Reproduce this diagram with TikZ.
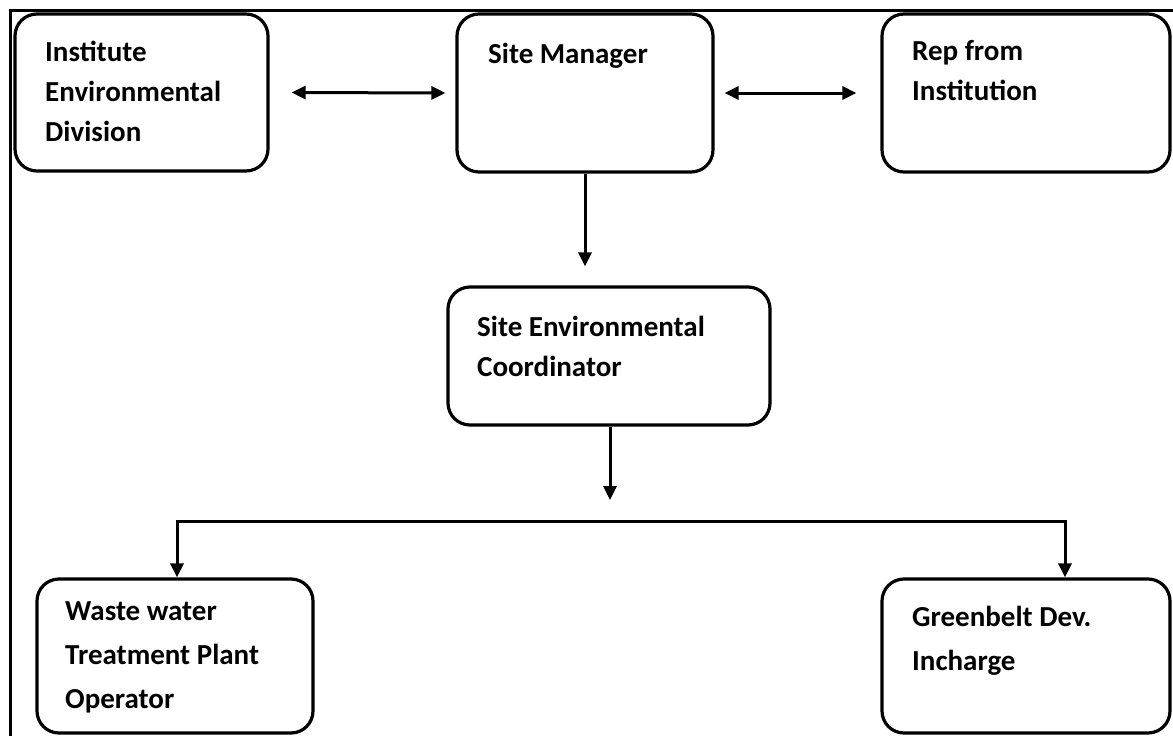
\documentclass[tikz,border=0pt]{standalone}
\usepackage{fontspec}
\setmainfont{Carlito}
\usetikzlibrary{arrows.meta}

\begin{document}
\begin{tikzpicture}[x=1pt, y=-1pt,
                    >={Triangle[length=14pt, width=13pt]},
                    box/.style = {draw=black, line width=3.2pt, rounded corners=22pt, inner sep=0pt},
                    txt/.style = {anchor=north west, align=left, inner sep=0pt, font=\fontsize{29}{40}\selectfont\bfseries},
                    arr/.style = {line width=3pt, ->},
                    frame/.style = {line width=3pt}
                ]
                    \useasboundingbox (0,0) rectangle (1173,736);
                    \draw[frame] (1180,10) -- (10,10) -- (10,745);

                    \node[box, minimum width=253pt, minimum height=157pt] (ied) at (141.5,92.5) {};
                    \node[box, minimum width=256pt, minimum height=158pt] (sm) at (585,93) {};
                    \node[box, minimum width=288pt, minimum height=158pt] (rep) at (1026,93) {};
                    \node[box, minimum width=322pt, minimum height=138pt] (sec) at (609,356) {};
                    \node[box, minimum width=276pt, minimum height=154pt] (ww) at (175,656) {};
                    \node[box, minimum width=288pt, minimum height=154pt] (gb) at (1026,656) {};

                    \node[txt] (iedtxt) at (45,41) {Institute\\Environmental\\Division};
                    \node[txt] (smtxt) at (488,43) {Site Manager};
                    \node[txt] (reptxt) at (912,40) {Rep from\\Institution};
                    \node[txt] (sectxt) at (477,316) {Site Environmental\\Coordinator};
                    \node[txt, font=\fontsize{29}{44}\selectfont\bfseries] (wwtxt) at (65,601) {Waste water\\Treatment Plant\\Operator};
                    \node[txt, font=\fontsize{29}{44}\selectfont\bfseries] (gbtxt) at (912,606) {Greenbelt Dev.\\Incharge};

                    \coordinate (secend) at (610,500);
                    \coordinate (busl) at (177,521);
                    \coordinate (busr) at (1065,521);

                    \draw[arr, <->] ([xshift=22pt]ied.east) -- ([xshift=-10pt]sm.west);
                    \draw[arr, <->] ([xshift=10pt]sm.east) -- ([xshift=-24pt]rep.west);
                    \draw[arr] (sm.south) -- ([yshift=19pt]sm.south |- sec.north);
                    \draw[arr] (sec.south -| secend) -- (secend);
                    \draw[arr, <->, line join=miter] (busl |- ww.north) -- (busl) -- (busr) -- (busr |- gb.north);
                \end{tikzpicture}
\end{document}
